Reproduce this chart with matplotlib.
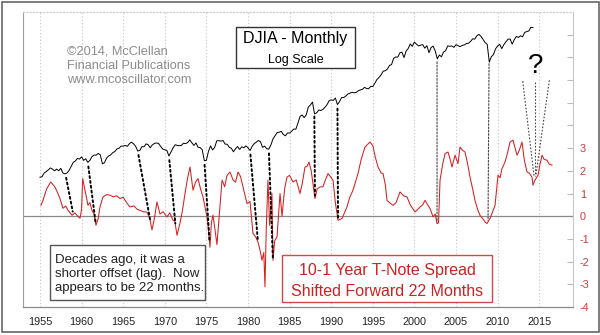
import numpy as np
import matplotlib
matplotlib.use("Agg")
import matplotlib.pyplot as plt
from matplotlib.patches import Rectangle, ConnectionPatch
from matplotlib.ticker import FuncFormatter, NullLocator

plt.rcParams['font.family'] = ['Liberation Sans', 'DejaVu Sans']

# ---------------- data ----------------
# DJIA, quarterly, starting 1955.0
djia_start = 1955.0
djia_values = [
    405, 410, 450, 465,        # 1955
    485, 510, 495, 475,        # 1956
    495, 475, 505, 450,        # 1957
    440, 450, 480, 530,        # 1958
    585, 605, 645, 635,        # 1959
    670, 615, 640, 585,        # 1960
    615, 675, 700, 700,        # 1961
    730, 705, 565, 580,        # 1962
    650, 685, 705, 745,        # 1963
    765, 815, 830, 875,        # 1964
    875, 890, 870, 930,        # 1965
    965, 925, 870, 775,        # 1966
    785, 865, 860, 925,        # 1967
    905, 840, 900, 935,        # 1968
    945, 935, 870, 815,        # 1969
    800, 785, 685, 760,        # 1970
    840, 905, 890, 885,        # 1971
    890, 940, 930, 955,        # 1972
    1020, 950, 890, 945,       # 1973
    850, 845, 800, 610,        # 1974
    615, 770, 880, 795,        # 1975
    850, 1000, 1000, 990,      # 1976
    1005, 920, 915, 850,       # 1977
    830, 760, 820, 865,        # 1978
    805, 860, 840, 880,        # 1979
    840, 785, 870, 930,        # 1980
    965, 1005, 975, 850,       # 1981
    875, 820, 810, 900,        # 1982
    1045, 1130, 1220, 1235,    # 1983
    1260, 1165, 1130, 1210,    # 1984
    1210, 1265, 1335, 1330,    # 1985
    1545, 1820, 1890, 1770,    # 1986
    1895, 2300, 2420, 2600,    # 1987
    1940, 1990, 2140, 2110,    # 1988
    2170, 2290, 2440, 2690,    # 1989
    2750, 2710, 2880, 2450,    # 1990
    2630, 2910, 2910, 3020,    # 1991
    3170, 3240, 3320, 3270,    # 1992
    3300, 3440, 3520, 3560,    # 1993
    3750, 3640, 3620, 3840,    # 1994
    3830, 4160, 4560, 4790,    # 1995
    5120, 5590, 5650, 5880,    # 1996
    6450, 6580, 7670, 7950,    # 1997
    7910, 8800, 8950, 7840,    # 1998
    9180, 9790, 10970, 10340,  # 1999
    11500, 10920, 10450, 10650,  # 2000
    10790, 9880, 10500, 8850,  # 2001
    10020, 10400, 9240, 7590,  # 2002
    8340, 7990, 8990, 9280,    # 2003
    10450, 10360, 10440, 10080,  # 2004
    10780, 10500, 10270, 10570,  # 2005
    10720, 11110, 11150, 11680,  # 2006
    12460, 12350, 13410, 13900,  # 2007
    13260, 12260, 11350, 10850,  # 2008
    7000, 8000, 8450, 9710,    # 2009
    10430, 10860, 9770, 10790,  # 2010
    11580, 12320, 12410, 10910,  # 2011
    12220, 13210, 12880, 13440,  # 2012
    13100, 14580, 14910, 15130,  # 2013
    16580, 16460,              # 2014
]
djia_dates = djia_start + 0.25 * np.arange(len(djia_values))

# 10-1 year T-note spread, shifted forward 22 months
spread_dates = [
    1955.12, 1955.36, 1955.8, 1956.29, 1956.8, 1957.1, 1957.4, 1957.76, 1958.1, 1958.37,
    1958.85, 1959.2, 1959.45, 1959.81, 1960.0, 1960.13, 1960.41, 1960.77, 1961.0, 1961.25,
    1961.5, 1961.73, 1962.0, 1962.21, 1962.57, 1963.0, 1963.41, 1963.8, 1964.2, 1964.62,
    1965.0, 1965.4, 1965.82, 1966.3, 1966.7, 1967.02, 1967.4, 1967.86, 1968.2, 1968.46,
    1968.7, 1969.06, 1969.42, 1969.8, 1970.26, 1970.6, 1970.99, 1971.2, 1971.47, 1971.83,
    1972.1, 1972.43, 1972.7, 1973.03, 1973.39, 1973.7, 1973.99, 1974.3, 1974.59, 1975.07,
    1975.25, 1975.43, 1975.6, 1975.79, 1976.0, 1976.27, 1976.5, 1976.88, 1977.2, 1977.48,
    1977.84, 1978.2, 1978.5, 1978.8, 1979.1, 1979.4, 1979.88, 1980.24, 1980.6, 1980.9,
    1981.2, 1981.45, 1981.68, 1981.9, 1982.04, 1982.2, 1982.4, 1982.6, 1982.88, 1983.0,
    1983.2, 1983.49, 1983.85, 1984.09, 1984.4, 1984.69, 1985.0, 1985.41, 1985.8, 1986.25,
    1986.5, 1986.85, 1987.1, 1987.33, 1987.6, 1987.81, 1988.05, 1988.3, 1988.65, 1989.01,
    1989.3, 1989.62, 1990.0, 1990.22, 1990.5, 1990.82, 1991.3, 1991.9, 1992.2, 1992.62,
    1993.22, 1993.6, 1994.06, 1994.66, 1995.02, 1995.3, 1995.63, 1996.0, 1996.23, 1996.5,
    1996.71, 1997.0, 1997.43, 1997.8, 1998.27, 1998.7, 1999.11, 1999.5, 2000.07, 2000.4,
    2000.67, 2001.0, 2001.27, 2001.6, 2001.88, 2002.24, 2002.5, 2002.72, 2002.9, 2003.08,
    2003.4, 2003.68, 2004.04, 2004.3, 2004.52, 2004.88, 2005.24, 2005.48, 2005.8, 2006.08,
    2006.4, 2006.68, 2007.0, 2007.28, 2007.6, 2007.88, 2008.2, 2008.49, 2008.73, 2009.09,
    2009.4, 2009.69, 2010.05, 2010.3, 2010.53, 2010.89, 2011.2, 2011.49, 2011.85, 2012.1,
    2012.33, 2012.6, 2012.93, 2013.2, 2013.53, 2013.8, 2014.13, 2014.25, 2014.5, 2014.86,
    2015.1, 2015.34, 2015.6, 2015.94, 2016.2, 2016.54,
]
spread_values = [
    0.48, 0.70, 1.20, 1.51, 1.29, 1.05, 0.78, 0.35, 0.45, 0.26,
    0.04, 0.15, 0.04, -0.09, 0.30, 1.66, 1.15, 0.48, 0.60, 0.26,
    0.10, -0.40, -0.10, 0.41, 0.85, 0.95, 0.93, 0.85, 0.90, 0.78,
    0.84, 0.60, 0.41, 0.45, 0.30, 0.26, 0.20, 0.18, -0.10, -0.60,
    -0.20, 0.63, 0.10, 0.20, -0.03, 0.15, -0.18, -0.20, -0.84, -0.30,
    0.20, 1.00, 1.60, 2.17, 1.15, 1.50, 1.66, 1.20, 0.85, -0.03,
    -0.60, -1.37, -0.30, 0.05, -0.50, -1.25, -0.20, 1.59, 1.30, 1.80,
    1.95, 1.60, 1.50, 1.95, 1.75, 1.29, 0.56, 0.65, -0.76, -0.90,
    -1.13, -1.50, -1.94, -1.60, -3.11, -0.50, 1.59, -0.40, 1.00, -1.94,
    -1.10, -0.90, 1.00, 0.00, 1.20, 1.73, 1.80, 1.51, 1.60, 1.00,
    1.40, 2.17, 2.20, 2.39, 2.00, 1.44, 0.78, 1.20, 1.29, 1.30,
    1.60, 1.88, 1.70, 1.59, 0.60, -0.18, -0.10, 0.41, 0.80, 1.15,
    1.88, 2.50, 3.05, 3.27, 3.10, 2.60, 2.17, 1.90, 1.88, 1.40,
    0.70, 0.60, 0.48, 0.60, 1.07, 0.90, 0.85, 0.50, 0.19, 0.30,
    0.41, 0.50, 0.70, 0.50, 0.34, -0.03, 0.10, -0.32, -0.30, 1.59,
    2.30, 2.76, 2.83, 2.50, 2.17, 2.69, 2.32, 3.05, 2.90, 2.83,
    2.30, 1.73, 1.20, 0.70, 0.30, 0.04, -0.10, -0.25, -0.32, -0.10,
    0.20, 0.48, 1.81, 1.70, 2.10, 2.39, 2.80, 3.27, 3.35, 3.00,
    2.69, 2.90, 3.27, 2.50, 1.95, 1.90, 1.73, 1.37, 1.60, 1.81,
    2.30, 2.69, 2.50, 2.47, 2.30, 2.25,
]

year_ticks = [1955, 1960, 1965, 1970, 1975, 1980, 1985, 1990, 1995, 2000, 2005, 2010, 2015]
spread_ticks = list(range(-4, 9))
max_labelled_tick = 3

# (DJIA low date, spread low date) pairs linked by dotted lines
thick_links = [(1958.05, 1959.0), (1960.75, 1961.73), (1966.75, 1968.3), (1970.5, 1971.3),
               (1974.75, 1975.4), (1980.25, 1981.2), (1982.5, 1983.0), (1987.97, 1988.05),
               (1990.75, 1990.82)]
thin_links = [(2002.72, 2002.72), (2008.97, 2008.85)]
# "?" guesses (date, spread level) top ends and common bottom
question_tops = [(2013.02, 5.95), (2014.5, 5.92), (2016.22, 5.99)]
question_bottoms = [(2014.38, 1.76), (2014.5, 1.76), (2014.6, 1.8)]

# ---------------- figure ----------------
W, H = 600, 335
fig = plt.figure(figsize=(W / 100, H / 100), dpi=100)
fig.patch.set_facecolor('white')

def fx(x):
    return x / W

def fy(y):
    return 1 - y / H

left, right, top, bottom = 23, 573, 12, 307
ax = fig.add_axes([fx(left), fy(bottom), (right - left) / W, (bottom - top) / H])
ax2 = ax.twinx()

ax.set_xlim(1952.96, 2019.06)
ax.set_ylim(-4, 9)

ax.grid(axis='x', linestyle=(0, (1, 2)), color='#c4c4c4', lw=0.8)
ax.set_axisbelow(True)
ax.axhline(0, color='#8a8a8a', lw=0.9, zorder=1)

ax.plot(spread_dates, spread_values, color='#d42020', lw=0.75, zorder=3)

ax.set_xticks(year_ticks)
ax.set_xticklabels([str(y) for y in year_ticks])
ax.tick_params(axis='x', length=0, pad=7.5, labelsize=7.8, labelcolor='#222222')

ax.yaxis.tick_right()
ax.set_yticks(spread_ticks)
ax.yaxis.set_major_formatter(FuncFormatter(lambda v, p: f"{int(v)}" if v <= max_labelled_tick else ""))
ax.tick_params(axis='y', which='both', left=False, labelleft=False, right=True, labelright=True,
               direction='in', length=4.5, color='#bbbbbb', width=0.8,
               pad=5, labelsize=7.8, labelcolor='#c83c3c')

ax.spines['left'].set_color('#a0a0a0')
ax.spines['left'].set_linewidth(0.8)
ax.spines['bottom'].set_color('#8a8a8a')
ax.spines['bottom'].set_linewidth(0.9)
ax.spines['right'].set_color('#c8c8c8')
ax.spines['right'].set_linewidth(0.8)
ax.spines['top'].set_color('#c8c8c8')
ax.spines['top'].set_linestyle((0, (1, 2)))
ax.spines['top'].set_linewidth(0.8)

ax2.set_yscale('log')
ax2.set_ylim(16.3, 24200)
ax2.yaxis.set_major_locator(NullLocator())
ax2.yaxis.set_minor_locator(NullLocator())
ax2.tick_params(axis='y', which='both', left=False, right=False, labelleft=False, labelright=False)
for s in ax2.spines.values():
    s.set_visible(False)
ax2.plot(djia_dates, djia_values, color='black', lw=0.7, zorder=3)

# dotted link lines
sp_d = np.array(spread_dates)
sp_v = np.array(spread_values)
for (ta, tb) in thick_links:
    ya = np.interp(ta, djia_dates, djia_values)
    yb = np.interp(tb, sp_d, sp_v)
    cp = ConnectionPatch(xyA=(ta, ya), coordsA=ax2.transData, xyB=(tb, yb), coordsB=ax.transData,
                         color='black', lw=1.4, linestyle=(0, (1, 1.5)), shrinkA=3, shrinkB=2, zorder=4)
    fig.add_artist(cp)
for (ta, tb) in thin_links:
    ya = np.interp(ta, djia_dates, djia_values)
    yb = np.interp(tb, sp_d, sp_v)
    cp = ConnectionPatch(xyA=(ta, ya), coordsA=ax2.transData, xyB=(tb, yb), coordsB=ax.transData,
                         color='#444444', lw=0.8, linestyle=(0, (1.5, 1.5)), shrinkA=3, shrinkB=1, zorder=4)
    fig.add_artist(cp)
for (a, b) in zip(question_tops, question_bottoms):
    ax.plot([a[0], b[0]], [a[1], b[1]], color='#444444', lw=0.8, linestyle=(0, (1.5, 1.5)), zorder=4)

# ---------------- annotations ----------------
def box(x0, y0, x1, y1, ec, lw=1.0):
    r = Rectangle((fx(x0), fy(y1)), (x1 - x0) / W, (y1 - y0) / H, transform=fig.transFigure,
                  facecolor='white', edgecolor=ec, lw=lw, zorder=5)
    fig.add_artist(r)

box(236, 27, 355, 68, '#333333')
fig.text(fx(295.5), fy(43.3), 'DJIA - Monthly', ha='center', va='baseline', fontsize=11.5,
         color='black', zorder=6)
fig.text(fx(295.5), fy(62.5), 'Log Scale', ha='center', va='baseline', fontsize=9,
         color='black', zorder=6)

for txt, yb in [('\u00a92014, McClellan', 54.3), ('Financial Publications', 69.0),
                ('www.mcoscillator.com', 83.3)]:
    fig.text(fx(67), fy(yb), txt, ha='left', va='baseline', fontsize=9.2, color='#8c8c8c', zorder=6)

box(50, 245, 205, 300, '#555555')
for txt, yb in [('Decades ago, it was a', 262.5), ('shorter offset (lag).  Now', 277.0),
                ('appears to be 22 months.', 291.5)]:
    fig.text(fx(55), fy(yb), txt, ha='left', va='baseline', fontsize=9.5, color='#222222', zorder=6)

box(282, 255, 492, 302, '#d04848')
for txt, yb in [('10-1 Year T-Note Spread', 275.0), ('Shifted Forward 22 Months', 295.7)]:
    fig.text(fx(387), fy(yb), txt, ha='center', va='baseline', fontsize=11.5, color='#cc2222', zorder=6)

fig.text(fx(535.7), fy(73), '?', ha='center', va='baseline', fontsize=20, color='black', zorder=6)

# outer frame
frame = Rectangle((fx(1.5), fy(332)), (597) / W, (330.5) / H, transform=fig.transFigure,
                  facecolor='none', edgecolor='#666666', lw=1.2, zorder=10)
fig.add_artist(frame)

fig.savefig('out.png', dpi=100)
